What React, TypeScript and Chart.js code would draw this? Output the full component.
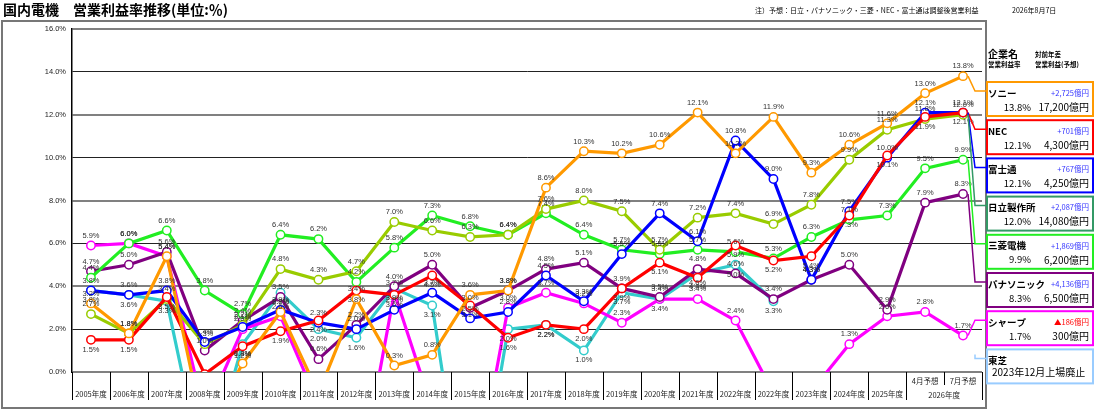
import React, { useEffect, useRef } from "react";
import Chart from "chart.js/auto";

// categories (2022年度 appears twice in the source)
const categories = [
  "2005年度", "2006年度", "2007年度", "2008年度", "2009年度", "2010年度",
  "2011年度", "2012年度", "2013年度", "2014年度", "2015年度", "2016年度",
  "2017年度", "2018年度", "2019年度", "2020年度", "2021年度", "2022年度",
  "2022年度", "2023年度", "2024年度", "2025年度", "4月予想", "7月予想",
];
const forecastYear = "2026年度";

// operating margin (%)
const sony = [3.2, 1.8, 5.4, -2.9, 0.4, 2.8, -1.0, 3.4, 0.3, 0.8, 3.6, 3.8, 8.6, 10.3, 10.2, 10.6, 12.1, 10.2, 11.9, 9.3, 10.6, 11.6, 13.0, 13.8];
const nec = [1.5, 1.5, 3.5, -0.1, 1.2, 1.9, 2.4, 3.8, 3.6, 4.5, 3.1, 1.6, 2.2, 2.0, 3.9, 5.1, 4.4, 5.9, 5.2, 5.4, 7.3, 10.1, 11.9, 12.1];
const fujitsu = [3.8, 3.6, 3.8, 1.4, 2.1, 2.9, 2.3, 2.0, 2.9, 3.7, 2.5, 2.8, 4.5, 3.3, 5.5, 7.4, 6.1, 10.8, 9.0, 4.3, 7.5, 10.0, 12.1, 12.1];
const hitachi = [2.7, 1.8, 3.4, 1.3, 2.2, 4.8, 4.3, 4.7, 7.0, 6.6, 6.3, 6.4, 7.6, 8.0, 7.5, 5.7, 7.2, 7.4, 6.9, 7.8, 9.9, 11.3, 11.8, 12.0];
const mitsubishi = [4.4, 6.0, 6.6, 3.8, 2.7, 6.4, 6.2, 4.2, 5.8, 7.3, 6.8, 6.4, 7.4, 6.4, 5.7, 5.5, 5.7, 5.6, 5.3, 6.3, 7.1, 7.3, 9.5, 9.9];
const panasonic = [4.7, 5.0, 5.6, 1.0, 2.4, 3.5, 0.6, 2.2, 4.0, 5.0, 3.0, 3.8, 4.8, 5.1, 3.9, 3.5, 4.8, 4.6, 3.4, 4.3, 5.0, 2.9, 7.9, 8.3];
const sharp = [5.9, 6.0, 5.4, -2.0, 2.0, 2.6, -1.5, -5.9, 3.7, -1.7, -6.6, 3.0, 3.7, 3.2, 2.3, 3.4, 3.4, 2.4, -1.0, -0.9, 1.3, 2.6, 2.8, 1.7];
const toshiba = [3.8, 3.6, 3.3, -5.0, 1.3, 3.7, 2.0, 1.6, 3.9, 3.1, -8.5, 2.0, 2.2, 1.0, 3.7, 3.4, 4.6, 5.0, 3.3, null, null, null, null, null];

const yTicks = [0, 2, 4, 6, 8, 10, 12, 14, 16];

// legend panel
const companies = ["ソニー", "NEC", "富士通", "日立製作所", "三菱電機", "パナソニック", "シャープ", "東芝"];
const yoyDiff = ["+2,725億円", "+701億円", "+767億円", "+2,087億円", "+1,869億円", "+4,136億円", "▲186億円", ""];
const forecastProfit = ["17,200億円", "4,300億円", "4,250億円", "14,080億円", "6,200億円", "6,500億円", "300億円", ""];
const toshibaNote = "2023年12月上場廃止";

const seriesValues = [sony, nec, fujitsu, hitachi, mitsubishi, panasonic, sharp, toshiba];
const lineColors = ["#FF9900", "#FF0000", "#0000FF", "#99CC00", "#22EE22", "#800080", "#FF00FF", "#33CCCC"];
const boxColors = ["#FF9900", "#FF0000", "#0000FF", "#339966", "#22EE22", "#800080", "#FF00FF", "#99CCFF"];
const labelBelow = [false, true, false, false, false, false, false, true];

const JP = "'Noto Sans CJK JP', 'Noto Sans', sans-serif";
const AR = "'Liberation Sans', Arial, sans-serif";

const decor = {
  id: "decor",
  beforeDraw(chart: any) {
    const ctx = chart.ctx;
    ctx.save();
    ctx.fillStyle = "#fff";
    ctx.fillRect(0, 0, chart.width, chart.height);
    ctx.restore();
  },
  afterDatasetsDraw(chart: any) {
    const ctx = chart.ctx;
    const area = chart.chartArea;
    ctx.save();
    ctx.font = `7.5px ${AR}`;
    ctx.fillStyle = "#333";
    ctx.textAlign = "center";
    chart.data.datasets.forEach((ds: any, di: number) => {
      const meta = chart.getDatasetMeta(di);
      meta.data.forEach((pt: any, i: number) => {
        const v = ds.data[i];
        if (v == null || v < 0) return;
        const below = labelBelow[di];
        ctx.textBaseline = below ? "top" : "bottom";
        const y = below ? pt.y + 6 : pt.y - 6;
        if (y < area.top - 4) return;
        ctx.fillText(v.toFixed(1) + "%", pt.x, y);
      });
    });
    ctx.restore();
  },
  afterDraw(chart: any) {
    const ctx = chart.ctx;
    const area = chart.chartArea;
    const xs = chart.scales.x;
    ctx.save();

    // title + note
    ctx.fillStyle = "#000";
    ctx.textBaseline = "middle";
    ctx.textAlign = "left";
    ctx.font = `bold 14px ${JP}`;
    ctx.fillText("国内電機　営業利益率推移(単位:％)", 3, 10);
    ctx.font = `7px ${JP}`;
    ctx.fillText("注）予想：日立・パナソニック・三菱・NEC・富士通は調整後営業利益", 755, 10);
    ctx.fillText("2026年8月7日", 1012, 10);

    // outer frame
    ctx.strokeStyle = "#777";
    ctx.lineWidth = 2;
    ctx.strokeRect(2, 21, area.right + 2, 387);

    // x axis dividers and labels
    const step = xs.getPixelForValue(1) - xs.getPixelForValue(0);
    ctx.strokeStyle = "#000";
    ctx.lineWidth = 1;
    for (let i = 0; i <= categories.length; i++) {
      const bx = Math.round(xs.getPixelForValue(0) - step / 2 + i * step) + 0.5;
      const short = i === categories.length - 1;
      ctx.beginPath();
      ctx.moveTo(bx, area.bottom);
      ctx.lineTo(bx, area.bottom + (short ? 13 : 28));
      ctx.stroke();
    }
    ctx.fillStyle = "#222";
    ctx.textAlign = "center";
    ctx.font = `7.5px ${JP}`;
    const n = categories.length;
    categories.forEach((c, i) => {
      const cx = xs.getPixelForValue(i);
      if (i >= n - 2) ctx.fillText(c, cx, area.bottom + 9);
      else ctx.fillText(c, cx, area.bottom + 22);
    });
    ctx.fillText(forecastYear, (xs.getPixelForValue(n - 2) + xs.getPixelForValue(n - 1)) / 2, area.bottom + 23);

    // legend panel
    const bx0 = 986;
    const bw = 107;
    ctx.textAlign = "left";
    ctx.fillStyle = "#000";
    ctx.font = `bold 10px ${JP}`;
    ctx.fillText("企業名", 988, 54);
    ctx.font = `bold 6.5px ${JP}`;
    ctx.fillText("営業利益率", 988, 65);
    ctx.fillText("対前年差", 1035, 55);
    ctx.fillText("営業利益(予想)", 1035, 65);

    companies.forEach((name, i) => {
      const top = 82 + i * 38.2;
      const h = 34;
      ctx.strokeStyle = boxColors[i];
      ctx.lineWidth = 2;
      ctx.strokeRect(bx0 + 1, top, bw - 1, h);

      // connector from last point to box
      const anchorY = top + 9;
      const meta = chart.getDatasetMeta(i);
      const last = meta.data[n - 1];
      const v = seriesValues[i][n - 1];
      ctx.lineWidth = 1.5;
      ctx.beginPath();
      if (v != null && last) {
        ctx.moveTo(last.x + 5, last.y);
        ctx.lineTo(area.right - 7, anchorY);
      } else {
        ctx.moveTo(area.right - 7, anchorY - 4);
        ctx.lineTo(area.right - 7, anchorY);
      }
      ctx.lineTo(bx0, anchorY);
      ctx.stroke();

      ctx.fillStyle = "#000";
      ctx.textAlign = "left";
      ctx.font = `bold 9.5px ${JP}`;
      ctx.fillText(name, 988, top + 11);
      if (v == null) {
        ctx.font = `10px ${JP}`;
        ctx.fillText(toshibaNote, 992, top + 23);
        return;
      }
      ctx.textAlign = "right";
      ctx.font = `7.5px ${JP}`;
      ctx.fillStyle = yoyDiff[i].startsWith("▲") ? "#FF0000" : "#3333FF";
      ctx.fillText(yoyDiff[i], 1089, top + 11);
      ctx.fillStyle = "#000";
      ctx.font = `9.5px ${JP}`;
      ctx.fillText(v.toFixed(1) + "%", 1031, top + 25);
      ctx.font = `10px ${JP}`;
      ctx.fillText(forecastProfit[i], 1089, top + 25);
    });

    ctx.restore();
  },
};

export default function App() {
  const canvasRef = useRef<HTMLCanvasElement>(null);

  useEffect(() => {
    if (!canvasRef.current) return;
    const chart = new Chart(canvasRef.current, {
      type: "line",
      data: {
        labels: categories,
        datasets: seriesValues.map((vals, i) => ({
          label: companies[i],
          data: vals,
          borderColor: lineColors[i],
          backgroundColor: "#fff",
          borderWidth: 3.2,
          pointRadius: 4.2,
          pointBorderWidth: 1.5,
          pointBackgroundColor: "#fff",
          pointBorderColor: lineColors[i],
          tension: 0,
        })),
      },
      options: {
        animation: false,
        responsive: true,
        maintainAspectRatio: false,
        layout: { padding: { top: 29, right: 118, bottom: 43, left: 0 } },
        plugins: { legend: { display: false }, tooltip: { enabled: false } },
        scales: {
          x: {
            type: "category",
            offset: true,
            grid: { display: false },
            ticks: { display: false },
            border: { display: false },
            afterFit: (s: any) => { s.height = 0; },
          },
          y: {
            min: yTicks[0],
            max: yTicks[yTicks.length - 1],
            afterBuildTicks: (s: any) => { s.ticks = yTicks.map((v) => ({ value: v })); },
            afterFit: (s: any) => { s.width = 72; },
            ticks: {
              callback: (v: any) => Number(v).toFixed(1) + "%",
              font: { size: 7.5, family: "'Liberation Sans', Arial" },
              color: "#222",
              padding: 6,
            },
            grid: {
              drawTicks: false,
              color: (c: any) => (c.index % 2 === 0 ? "#808080" : "#222"),
              lineWidth: (c: any) => (c.index % 2 === 0 ? 2 : 1),
            },
            border: { color: "#000", width: 1.5 },
          },
        },
      },
      plugins: [decor],
    } as any);
    return () => chart.destroy();
  }, []);

  return (
    <div style={{ position: "absolute", left: 0, top: 0, width: 1100, height: 415, background: "#fff" }}>
      <canvas ref={canvasRef} />
    </div>
  );
}
